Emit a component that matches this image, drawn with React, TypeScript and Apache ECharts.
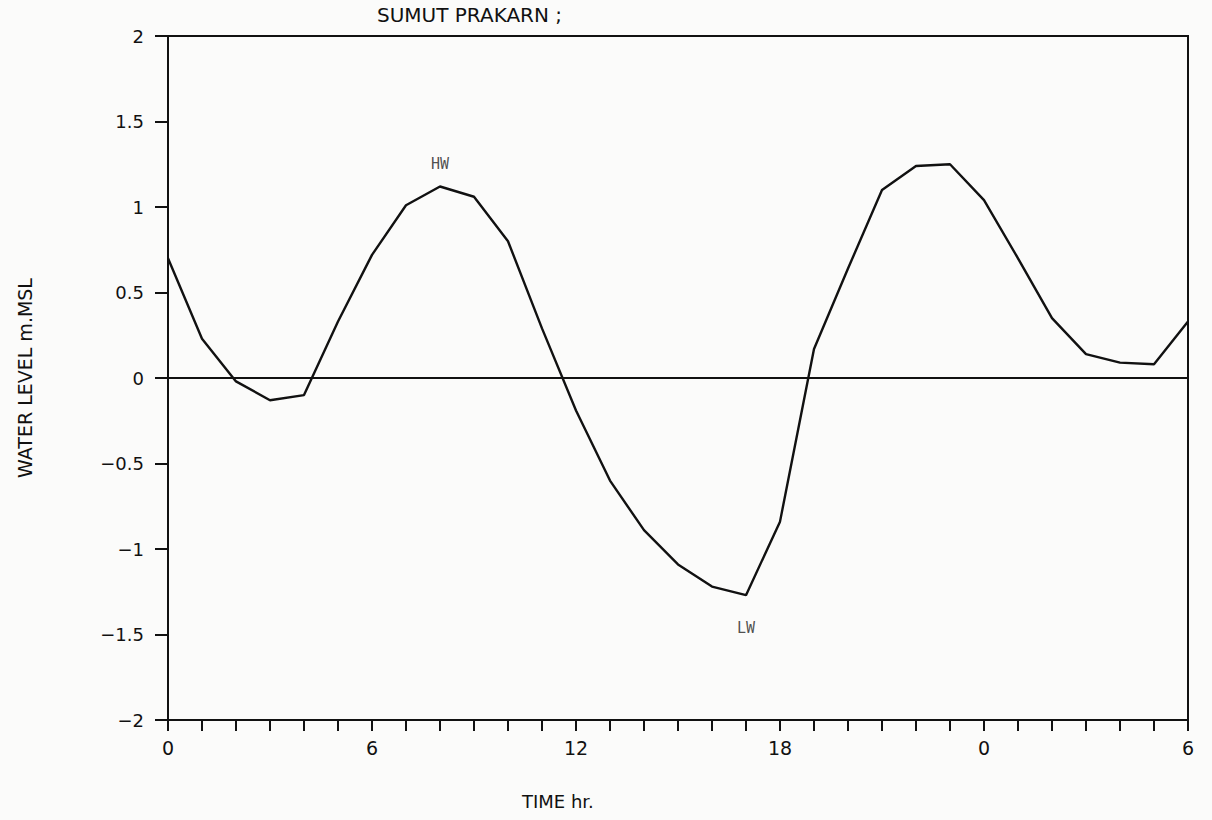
import React, { useEffect, useRef } from "react";
import * as echarts from "echarts";

// Hours since start (0 .. 30)
const hours: number[] = [
  0, 1, 2, 3, 4, 5, 6, 7, 8, 9, 10, 11, 12, 13, 14, 15,
  16, 17, 18, 19, 20, 21, 22, 23, 24, 25, 26, 27, 28, 29, 30,
];

// Water level, m above MSL
const waterLevel: number[] = [
  0.7, 0.23, -0.02, -0.13, -0.1, 0.33, 0.72, 1.01, 1.12, 1.06, 0.8, 0.29,
  -0.19, -0.6, -0.89, -1.09, -1.22, -1.27, -0.84, 0.17, 0.64, 1.1, 1.24,
  1.25, 1.04, 0.7, 0.35, 0.14, 0.09, 0.08, 0.33,
];

// Annotated extremes
const extremeNames: string[] = ["HW", "LW"];
const extremeHours: number[] = [8, 17];
const extremeLevels: number[] = [1.12, -1.27];

const titleText = "SUMUT PRAKARN ;";
const xAxisTitle = "TIME hr.";
const yAxisTitle = "WATER LEVEL m.MSL";

const AXIS_FONT = "'DejaVu Sans', 'Liberation Sans', sans-serif";

export default function App() {
  const ref = useRef<HTMLDivElement | null>(null);

  useEffect(() => {
    if (!ref.current) return;
    const chart = echarts.init(ref.current, undefined, { renderer: "svg" });

    const lineData = hours.map((h, i) => [h, waterLevel[i]]);
    const extremeData = extremeNames.map((n, i) => ({
      value: [extremeHours[i], extremeLevels[i]],
      name: n,
      label: {
        position: i === 0 ? "top" : "bottom",
        distance: i === 0 ? 14 : 24,
      },
    }));

    chart.setOption({
      animation: false,
      backgroundColor: "#fbfbfa",
      grid: {
        left: 168,
        right: 24,
        top: 36,
        bottom: 100,
        show: true,
        borderColor: "#111",
        borderWidth: 2,
        backgroundColor: "transparent",
      },
      xAxis: {
        type: "value",
        min: 0,
        max: 30,
        interval: 1,
        axisLine: {
          show: true,
          onZero: false,
          lineStyle: { color: "#111", width: 2 },
        },
        axisTick: {
          show: true,
          inside: false,
          length: 11,
          lineStyle: { color: "#111", width: 2 },
        },
        splitLine: { show: false },
        axisLabel: {
          margin: 18,
          color: "#111",
          fontSize: 19,
          fontFamily: AXIS_FONT,
          formatter: (v: number) => (v % 6 === 0 ? String(v % 24) : ""),
        },
      },
      yAxis: {
        type: "value",
        min: -2,
        max: 2,
        interval: 0.5,
        name: yAxisTitle,
        nameLocation: "middle",
        nameGap: 134,
        nameRotate: 90,
        nameTextStyle: {
          color: "#111",
          fontSize: 19,
          fontFamily: AXIS_FONT,
        },
        axisLine: { show: true, lineStyle: { color: "#111", width: 2 } },
        axisTick: {
          show: true,
          inside: false,
          length: 13,
          lineStyle: { color: "#111", width: 2 },
        },
        splitLine: { show: false },
        axisLabel: {
          margin: 24,
          color: "#111",
          fontSize: 18,
          fontFamily: AXIS_FONT,
          formatter: (v: number) =>
            v < 0 ? "\u2212" + String(Math.abs(v)) : String(v),
        },
      },
      graphic: [
        {
          type: "text",
          left: 377,
          top: 5,
          style: {
            text: titleText,
            fill: "#111",
            font: `20px ${AXIS_FONT}`,
          },
        },
        {
          type: "text",
          left: 522,
          top: 792,
          style: {
            text: xAxisTitle,
            fill: "#111",
            font: `18px ${AXIS_FONT}`,
          },
        },
      ],
      series: [
        {
          type: "line",
          data: lineData,
          showSymbol: false,
          symbol: "none",
          smooth: false,
          lineStyle: { color: "#111", width: 2.4 },
          z: 3,
          markLine: {
            silent: true,
            symbol: ["none", "none"],
            label: { show: false },
            lineStyle: { color: "#111", width: 2, type: "solid" },
            data: [{ yAxis: 0 }],
          },
        },
        {
          type: "scatter",
          data: extremeData,
          symbolSize: 2,
          itemStyle: { color: "rgba(0,0,0,0)" },
          silent: true,
          label: {
            show: true,
            formatter: "{b}",
            color: "#222",
            fontSize: 15,
            fontFamily: "'DejaVu Sans Mono', monospace",
          },
          labelLayout: { hideOverlap: false },
          z: 4,
        },
      ],
    });

    return () => {
      chart.dispose();
    };
  }, []);

  return (
    <div
      ref={ref}
      style={{
        position: "fixed",
        left: 0,
        top: 0,
        width: 1212,
        height: 820,
      }}
    />
  );
}
